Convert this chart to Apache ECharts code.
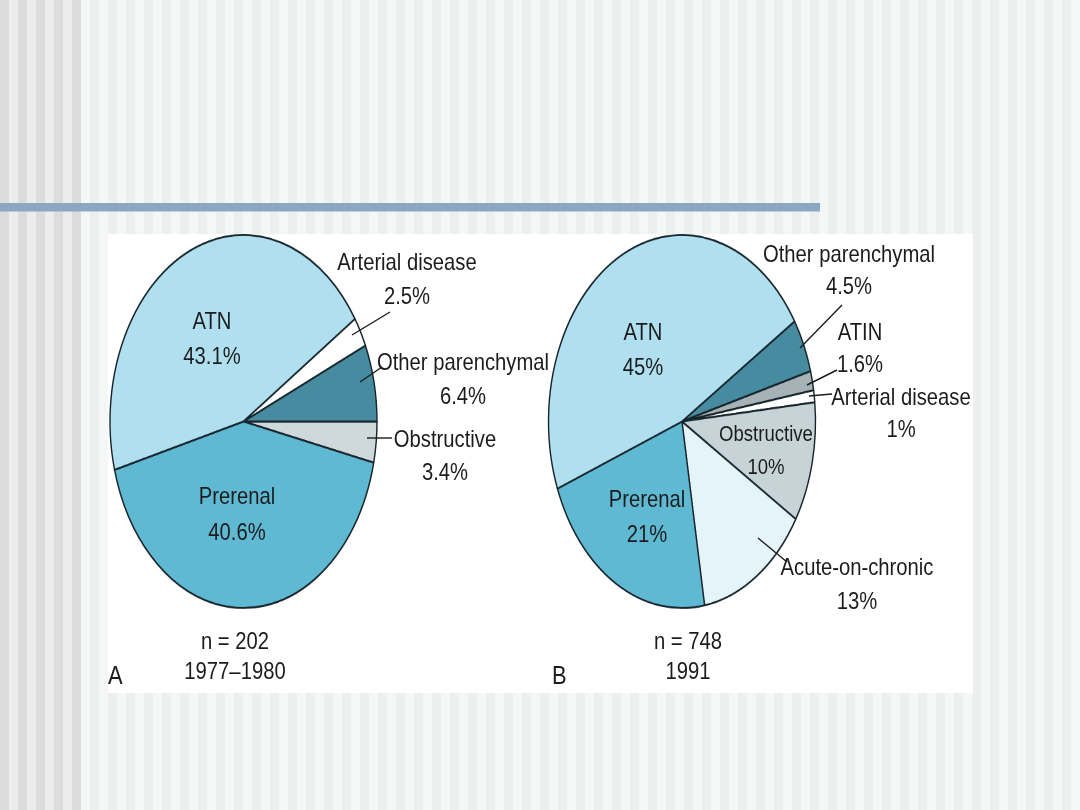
<!DOCTYPE html>
<html><head><meta charset="utf-8">
<script src="https://cdn.jsdelivr.net/npm/echarts@6/dist/echarts.min.js"></script>
<style>
html,body{margin:0;padding:0;width:1080px;height:810px;overflow:hidden;background:#fff}
#bg,#fg{position:absolute;left:0;top:0;width:1080px;height:810px}
#pie{position:absolute;left:0;top:0;width:1080px;transform-origin:0 0}
</style></head><body>
<div id="bg"></div><div id="pie"></div><div id="fg"></div>
<script>
// ---- data ----
const namesA = ['Obstructive', 'Prerenal', 'ATN', 'Arterial disease', 'Other parenchymal'];
const valuesA = [3.4, 40.6, 43.1, 2.5, 6.4];
const namesB = ['Other parenchymal', 'ATIN', 'Arterial disease', 'Obstructive', 'Acute-on-chronic', 'Prerenal', 'ATN'];
const valuesB = [4.5, 1.6, 1, 10, 13, 21, 45];
const captionA = ['n = 202', '1977\u20131980'];
const captionB = ['n = 748', '1991'];
const panelLetters = ['A', 'B'];

// ---- styles ----
const sliceColors = {
  'ATN': '#b0e0f0',
  'Prerenal': '#5fb9d3',
  'Other parenchymal': '#468b9f',
  'Arterial disease': '#ffffff',
  'Obstructive': '#cfd9dc',
  'ATIN': '#a7b2b6',
  'Acute-on-chronic': '#e5f4f9'
};
const sliceColorsB = Object.assign({}, sliceColors, { 'Obstructive': '#c6d3d7' });

const RX = 133.5, RY = 186.5, S = RY / RX;
const CY = 421.5;
const centerAx = 243.5, centerBx = 682;

// label layout: name -> [x, y line1, y line2, fontSize]
const layoutA = {
  'ATN': [212, 322, 357, 24],
  'Prerenal': [237, 497, 533, 24],
  'Arterial disease': [407, 263, 297, 24],
  'Other parenchymal': [463, 363, 397, 24],
  'Obstructive': [445, 440, 473, 24]
};
const layoutB = {
  'ATN': [643, 333, 368, 24],
  'Obstructive': [766, 435, 468, 22],
  'Prerenal': [647, 500, 535, 24],
  'Acute-on-chronic': [857, 568, 602, 24],
  'Other parenchymal': [849, 255, 287, 24],
  'ATIN': [860, 333, 365, 24],
  'Arterial disease': [901, 398, 430, 24]
};
const leadersA = [[352, 335, 390, 312], [360, 382, 382, 367], [367, 438, 392, 438]];
const leadersB = [[800, 348, 842, 305], [807, 385, 837, 370], [809, 396, 832, 394], [758, 538, 787, 562]];

// ---- background ----
const bg = echarts.init(document.getElementById('bg'));
const bgEls = [];
for (let x = 0, i = 0; x < 1080; x += 9, i++) {
  let c;
  if (x < 81) c = (i % 2 === 0) ? '#dcdcdc' : '#ececec';
  else c = (i % 2 === 1) ? '#f5f6f6' : '#edefef';
  bgEls.push({ type: 'rect', shape: { x: x, y: 0, width: 9, height: 810 }, style: { fill: c }, silent: true });
}
bgEls.push({ type: 'rect', shape: { x: 0, y: 203, width: 820, height: 8.5 }, style: { fill: '#8ca7c3' }, silent: true });
bgEls.push({ type: 'rect', shape: { x: 108, y: 234, width: 865, height: 459 }, style: { fill: '#ffffff' }, silent: true });
bg.setOption({ animation: false, graphic: { elements: bgEls } });

// ---- pies (elliptical via vertical scale) ----
const pieDiv = document.getElementById('pie');
pieDiv.style.height = (810 / S) + 'px';
pieDiv.style.transform = 'scaleY(' + S + ')';
const pie = echarts.init(pieDiv, null, { devicePixelRatio: 2 });
function pieData(names, values, colors) {
  return names.map((n, i) => ({ name: n, value: values[i], itemStyle: { color: colors[n] } }));
}
const common = {
  type: 'pie', radius: RX, silent: true, clockwise: true,
  label: { show: false }, labelLine: { show: false },
  itemStyle: { borderColor: '#17252c', borderWidth: 1.4 },
  emphasis: { disabled: true }
};
pie.setOption({
  animation: false,
  series: [
    Object.assign({}, common, { center: [centerAx, CY / S], startAngle: 0, data: pieData(namesA, valuesA, sliceColors) }),
    Object.assign({}, common, { center: [centerBx, CY / S], startAngle: 32.5, data: pieData(namesB, valuesB, sliceColorsB) })
  ]
});

// ---- labels ----
const SX = 0.843;
const FF = '"Liberation Sans", Arial, Helvetica, sans-serif';
function txt(str, x, y, size, align) {
  return {
    type: 'text', x: x, y: y, scaleX: SX, silent: true, z: 10,
    style: { text: str, fontSize: size, fontFamily: FF, fill: '#1c1c1c',
      align: align || 'center', verticalAlign: 'middle',
      textAlign: align || 'center', textVerticalAlign: 'middle' }
  };
}
function line(l) {
  return { type: 'line', silent: true, z: 10, shape: { x1: l[0], y1: l[1], x2: l[2], y2: l[3] },
    style: { stroke: '#1c1c1c', lineWidth: 1.4 } };
}
const fgEls = [];
function addLabels(names, values, layout) {
  names.forEach((n, i) => {
    const p = layout[n];
    fgEls.push(txt(n, p[0], p[1], p[3]));
    fgEls.push(txt(values[i] + '%', p[0], p[2], p[3]));
  });
}
addLabels(namesA, valuesA, layoutA);
addLabels(namesB, valuesB, layoutB);
leadersA.forEach(l => fgEls.push(line(l)));
leadersB.forEach(l => fgEls.push(line(l)));
fgEls.push(txt(captionA[0], 235, 642, 24));
fgEls.push(txt(captionA[1], 235, 672, 24));
fgEls.push(txt(captionB[0], 688, 642, 24));
fgEls.push(txt(captionB[1], 688, 672, 24));
fgEls.push(txt(panelLetters[0], 108, 677, 26, 'left'));
fgEls.push(txt(panelLetters[1], 552, 677, 26, 'left'));

const fg = echarts.init(document.getElementById('fg'));
fg.setOption({ animation: false, graphic: { elements: fgEls } });
</script>
</body></html>
